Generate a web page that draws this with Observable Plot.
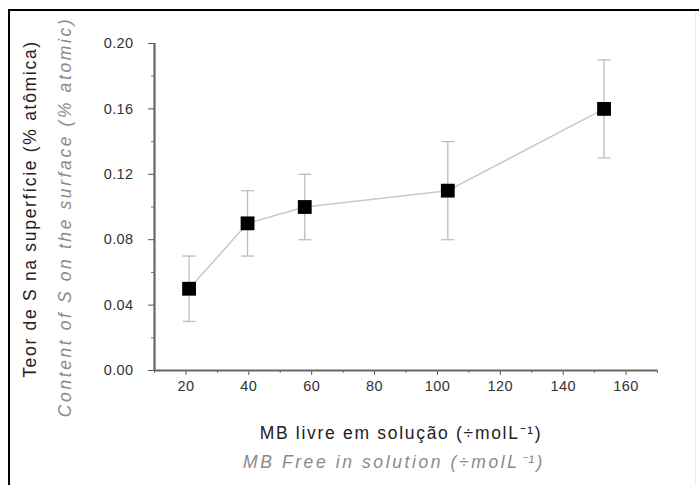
<!DOCTYPE html>
<html>
<head>
<meta charset="utf-8">
<script src="https://cdn.jsdelivr.net/npm/d3@7"></script>
<script src="https://cdn.jsdelivr.net/npm/@observablehq/plot@0.6"></script>
<style>
  html, body { margin: 0; padding: 0; background: #fff; }
  #wrap { position: relative; width: 699px; height: 485px; overflow: hidden; font-family: "Liberation Sans", Arial, sans-serif; }
  #frame { position: absolute; left: 8px; top: 9px; width: 700px; height: 490px; border-left: 2px solid #000; border-top: 2px solid #000; box-sizing: border-box; pointer-events: none; }
  #rframe { position: absolute; left: 695px; top: 11px; width: 1px; height: 480px; background: #eee; }
  .axlabel { letter-spacing: 1.7px; }
  .axlabel-en { letter-spacing: 2.6px; }
  .ticklab { letter-spacing: 0.4px; }
</style>
</head>
<body>
<div id="wrap"><div id="frame"></div><div id="rframe"></div></div>
<script>
const mbFree = [21, 39.6, 57.8, 103.3, 153];
const sContent = [0.05, 0.09, 0.10, 0.11, 0.16];
const sError = [0.02, 0.02, 0.02, 0.03, 0.03];
const xTicks = [20, 40, 60, 80, 100, 120, 140, 160];
const xMinorTicks = [10, 30, 50, 70, 90, 110, 130, 150, 170];
const yTicks = [0.00, 0.04, 0.08, 0.12, 0.16, 0.20];
const yMinorTicks = [0.02, 0.06, 0.10, 0.14, 0.18];
const yLabelPt = "Teor de S na superfície (% atômica)";
const yLabelEn = "Content of S on the surface (% atomic)";
const xLabelPt = "MB livre em solução (÷molL⁻¹)";
const xLabelEn = "MB Free in solution (÷molL⁻¹)";

const data = mbFree.map((x, i) => ({x, y: sContent[i], lo: sContent[i] - sError[i], hi: sContent[i] + sError[i]}));

const cap = {draw(ctx) { ctx.moveTo(-6.5, 0); ctx.lineTo(6.5, 0); }};

const chart = Plot.plot({
  width: 699,
  height: 485,
  marginLeft: 154,
  marginRight: 42,
  marginTop: 43,
  marginBottom: 115,
  style: {fontFamily: "'Liberation Sans', Arial, sans-serif", fontSize: "14px", background: "transparent"},
  x: {domain: [10, 170]},
  y: {domain: [0, 0.2]},
  marks: [
    Plot.axisX({ticks: xTicks, tickSize: 5, stroke: "#555", text: null, label: null}),
    Plot.axisX({ticks: xMinorTicks, tickSize: 3, stroke: "#777", text: null, label: null}),
    Plot.axisY({ticks: yTicks, tickSize: 6, stroke: "#555", text: null, label: null}),
    Plot.axisY({ticks: yMinorTicks, tickSize: 3, stroke: "#777", text: null, label: null}),
    Plot.text(xTicks, {x: d => d, frameAnchor: "bottom", dy: 20, text: d => String(d), fontSize: 14.5, fill: "#333", className: "ticklab"}),
    Plot.text(yTicks, {y: d => d, frameAnchor: "left", textAnchor: "end", dx: -21, text: d3.format(".2f"), fontSize: 14.5, fill: "#333", className: "ticklab"}),
    Plot.ruleY([0], {stroke: "#666", strokeWidth: 2.2}),
    Plot.ruleX([10], {stroke: "#666", strokeWidth: 2.2}),
    Plot.line(data, {x: "x", y: "y", stroke: "#c8c8c8", strokeWidth: 1.5}),
    Plot.ruleX(data, {x: "x", y1: "lo", y2: "hi", stroke: "#bdbdbd", strokeWidth: 1.3}),
    Plot.dot(data, {x: "x", y: "lo", symbol: cap, stroke: "#bdbdbd", strokeWidth: 1.3}),
    Plot.dot(data, {x: "x", y: "hi", symbol: cap, stroke: "#bdbdbd", strokeWidth: 1.3}),
    Plot.dot(data, {x: "x", y: "y", symbol: "square", r: 7.8, fill: "#000", stroke: "none"}),
    Plot.text([yLabelPt], {text: d => d, frameAnchor: "left", textAnchor: "middle", rotate: -90, dx: -124, dy: 2, fontSize: 17.5, fill: "#222", className: "axlabel"}),
    Plot.text([yLabelEn], {text: d => d, frameAnchor: "left", textAnchor: "middle", rotate: -90, dx: -89, dy: 10, fontSize: 17.5, fill: "#8a8a8a", fontStyle: "italic", className: "axlabel-en"}),
    Plot.text([xLabelPt], {text: d => d, frameAnchor: "bottom", dy: 68, dx: -5, fontSize: 17.5, fill: "#222", className: "axlabel"}),
    Plot.text([xLabelEn], {text: d => d, frameAnchor: "bottom", dy: 97, dx: -12, fontSize: 17.5, fill: "#8a8a8a", fontStyle: "italic", className: "axlabel-en"})
  ]
});
chart.style.position = "absolute";
chart.style.left = "0";
chart.style.top = "0";
document.getElementById("wrap").appendChild(chart);
</script>
</body>
</html>
